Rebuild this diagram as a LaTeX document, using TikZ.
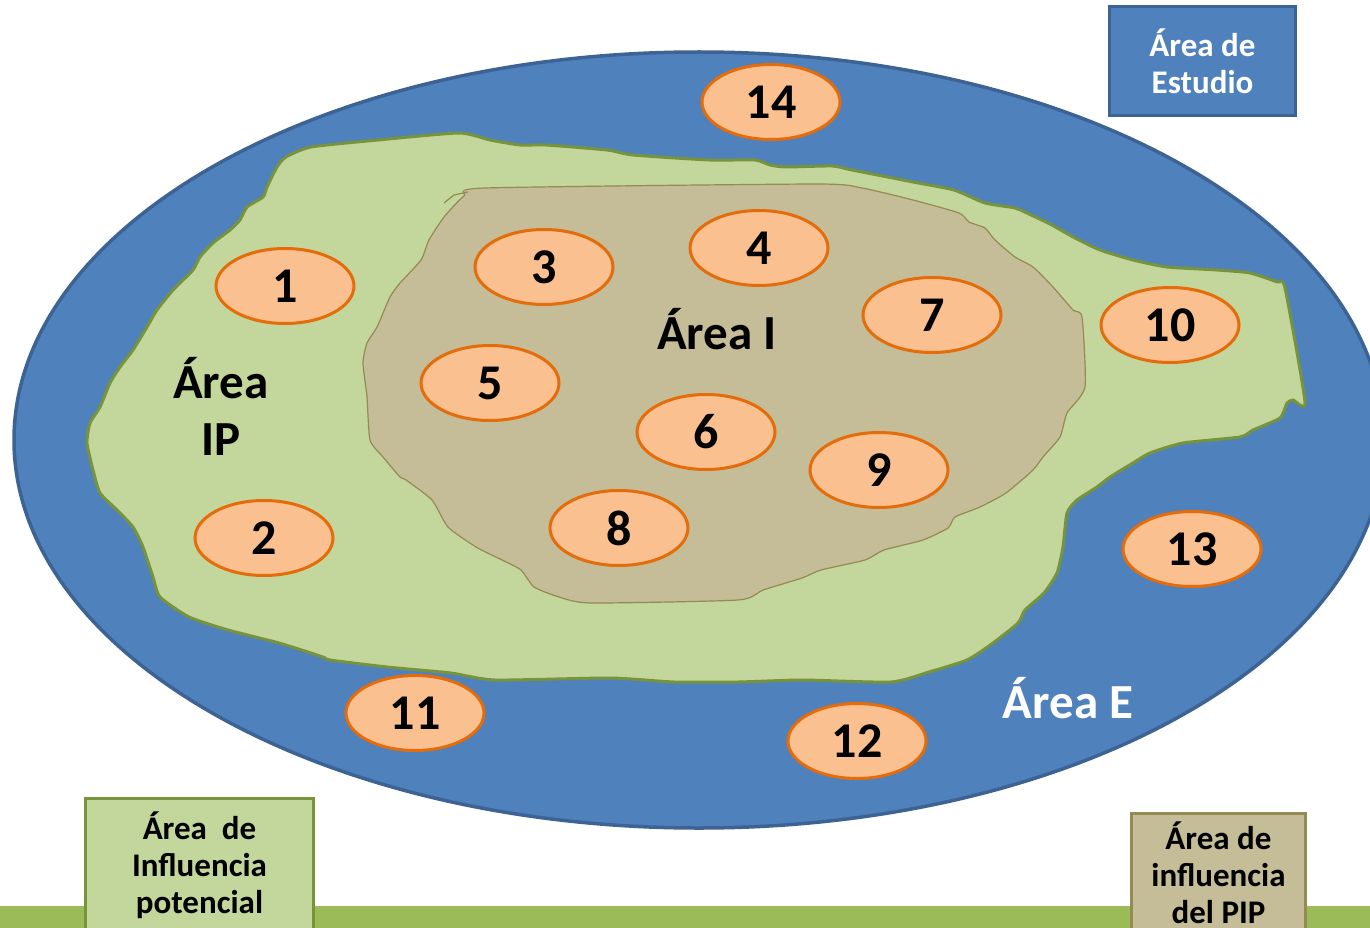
\documentclass[tikz,border=0pt]{standalone}
\usepackage{fontspec}
\setmainfont{Carlito}
\usetikzlibrary{shapes.geometric}
\definecolor{eblue}{HTML}{4F81BD}
\definecolor{eblueline}{HTML}{3C6394}
\definecolor{ipgreen}{HTML}{C3D69B}
\definecolor{ipline}{HTML}{77933C}
\definecolor{itan}{HTML}{C4BD97}
\definecolor{itanline}{HTML}{948A54}
\definecolor{ofill}{HTML}{FAC090}
\definecolor{oline}{HTML}{E46C0A}
\definecolor{bandgreen}{HTML}{9BBB59}
\begin{document}
\begin{tikzpicture}[x=1pt,y=-1pt,
  num/.style={ellipse, draw=oline, fill=ofill, line width=3pt,
    minimum width=138pt, minimum height=75pt, inner sep=0pt,
    font=\fontsize{50}{50}\selectfont\bfseries},
  biglabel/.style={inner sep=0pt, align=center,
    font=\fontsize{49}{57}\selectfont\bfseries},
  legend/.style={rectangle, line width=3pt, inner sep=0pt, align=center,
    font=\fontsize{33}{37}\selectfont\bfseries}]
\useasboundingbox (0,0) rectangle (1370,928);
\clip (0,0) rectangle (1370,928);
% study area ellipse
\draw[fill=eblue, draw=eblueline, line width=3.5pt] (699,440) ellipse [x radius=685, y radius=388];
% area IP (green)
\draw[fill=ipgreen, draw=ipline, line width=3pt, line join=round]
  plot[smooth cycle, tension=0.35] coordinates {
  (286,157) (311,147) (378,140) (459,133) (490,140) (520,145) (546,145) (607,150)
  (633,155) (709,160) (755,160) (770,165) (786,167) (832,166) (852,170) (913,182)
  (954,190) (985,203) (1015,208) (1031,215) (1050,224) (1075,238) (1100,250)
  (1133,260) (1167,267) (1217,270) (1250,273) (1277,282) (1285,288) (1305,402)
  (1293,400) (1287,403) (1280,418) (1253,430) (1240,437) (1183,443) (1150,453)
  (1133,463) (1110,477) (1097,487) (1077,500) (1067,513) (1063,547) (1057,573)
  (1044,593) (1025,610) (1018,623) (993,643) (967,660) (929,672) (891,682)
  (802,680) (738,682) (674,682) (610,678) (495,680) (451,673) (387,667) (330,660)
  (323,657) (279,643) (228,630) (189,617) (160,597) (153,577) (143,547) (133,527)
  (117,510) (100,493) (93,470) (87,443) (90,423) (100,407) (110,383) (120,367)
  (133,350) (147,327) (157,310) (173,290) (193,270) (200,257) (213,243) (230,230)
  (240,220) (247,207) (263,197) (267,187) (277,167)};
% area I (tan)
\draw[fill=itan, draw=itanline, line width=1.2pt, line join=round]
  plot[smooth cycle, tension=0.35] coordinates {
  (464,196) (485,188) (816,184) (862,188) (913,200) (959,213) (969,222) (985,228)
  (995,240) (1015,257) (1033,267) (1053,287) (1073,310) (1082,317) (1085,387)
  (1067,413) (1060,437) (1043,457) (1033,470) (1006,493) (980,507) (955,517)
  (948,528) (923,540) (884,550) (865,560) (821,570) (802,578) (763,590) (738,600)
  (591,603) (559,597) (534,587) (521,570) (502,560) (476,547) (448,527) (432,500)
  (406,480) (400,477) (383,457) (370,440) (367,397) (363,363) (367,343) (377,327)
  (390,297) (400,283) (421,260) (429,240) (444,217)};
\draw[draw=itanline, line width=1.2pt] (444,203) -- (454,195) -- (468,192);
% bottom band
\fill[bandgreen] (0,906) rectangle (1370,930);
% numbered ellipses
\node[num] (o1)  at (285,286) {1};
\node[num] (o2)  at (264,538) {2};
\node[num] (o3)  at (544,267) {3};
\node[num] (o4)  at (759,248) {4};
\node[num] (o5)  at (490,383) {5};
\node[num] (o6)  at (706,432) {6};
\node[num] (o7)  at (932,315) {7};
\node[num] (o8)  at (619,528) {8};
\node[num] (o9)  at (879,470) {9};
\node[num] (o10) at (1170,325) {10};
\node[num] (o11) at (415,713) {11};
\node[num] (o12) at (857,741) {12};
\node[num] (o13) at (1192,549) {13};
\node[num] (o14) at (771,102) {14};
% area labels
\node[biglabel] (lI)  at (717,329) {Área I};
\node[biglabel] (lIP) at (221,406) {Área\\IP};
\node[biglabel, text=white] (lE) at (1068,698) {Área E};
% legend boxes
\node[legend, fill=eblue, draw=eblueline, text=white,
  minimum width=186pt, minimum height=109pt] (leg1) at (1202.5,61) {Área de\\Estudio};
\node[legend, fill=ipgreen, draw=ipline,
  minimum width=228pt, minimum height=134pt] (leg2) at (199.5,865) {Área\ \ de\\Influencia\\potencial};
\node[legend, fill=itan, draw=itanline,
  minimum width=174pt, minimum height=120pt] (leg3) at (1218.5,873) {Área de\\influencia\\del PIP};
\end{tikzpicture}
\end{document}
